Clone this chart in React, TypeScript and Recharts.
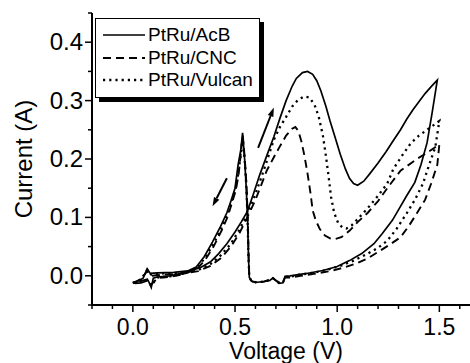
import React from 'react';
import { LineChart, Line, XAxis, YAxis, Legend, ReferenceLine } from 'recharts';

type Pt = [number, number];

// Voltage (V), Current (A). forward scan then reverse scan.
const acbForward: Pt[] = [
  [0.0, -0.013], [0.03, -0.008], [0.05, -0.004], [0.07, 0.012], [0.085, 0.004], [0.12, 0.005],
  [0.2, 0.006], [0.28, 0.009], [0.33, 0.014], [0.38, 0.024], [0.42, 0.038], [0.46, 0.055],
  [0.5, 0.075], [0.53, 0.092], [0.56, 0.11], [0.59, 0.14], [0.62, 0.172], [0.66, 0.21],
  [0.69, 0.238], [0.72, 0.27], [0.75, 0.3], [0.78, 0.325], [0.8, 0.338], [0.83, 0.348],
  [0.855, 0.35], [0.88, 0.345], [0.9, 0.334], [0.92, 0.317], [0.945, 0.29], [0.965, 0.265],
  [0.99, 0.237], [1.015, 0.208], [1.04, 0.183], [1.06, 0.167], [1.08, 0.158], [1.1, 0.155],
  [1.13, 0.162], [1.16, 0.175], [1.2, 0.193], [1.24, 0.213], [1.27, 0.229], [1.31, 0.25],
  [1.34, 0.268], [1.37, 0.284], [1.4, 0.298], [1.43, 0.312], [1.46, 0.324], [1.49, 0.335],
];
const acbReverse: Pt[] = [
  [1.465, 0.28], [1.44, 0.228], [1.41, 0.19], [1.38, 0.16], [1.34, 0.137], [1.3, 0.113],
  [1.27, 0.095], [1.22, 0.072], [1.18, 0.055], [1.12, 0.038], [1.06, 0.026], [1.0, 0.016],
  [0.93, 0.009], [0.85, 0.004], [0.77, 0.0], [0.745, -0.001], [0.735, -0.012], [0.715, -0.013],
  [0.7, -0.008], [0.685, -0.004], [0.67, -0.008], [0.64, -0.01], [0.61, -0.011], [0.585, -0.01],
  [0.57, -0.003], [0.566, 0.03], [0.562, 0.09], [0.555, 0.15], [0.547, 0.2], [0.537, 0.245],
  [0.528, 0.215], [0.515, 0.19], [0.5, 0.15], [0.48, 0.128], [0.46, 0.108], [0.43, 0.085],
  [0.39, 0.058], [0.35, 0.033], [0.31, 0.015], [0.25, 0.005], [0.18, 0.0], [0.12, -0.002],
  [0.1, -0.004], [0.09, -0.02], [0.075, -0.008], [0.04, -0.012], [0.01, -0.013],
];

const cncForward: Pt[] = [
  [0.0, -0.012], [0.04, -0.006], [0.07, 0.008], [0.09, 0.0], [0.15, 0.002], [0.25, 0.004],
  [0.32, 0.008], [0.38, 0.017], [0.43, 0.03], [0.48, 0.05], [0.52, 0.072], [0.56, 0.1],
  [0.6, 0.13], [0.63, 0.157], [0.655, 0.18], [0.69, 0.203], [0.72, 0.222], [0.75, 0.24],
  [0.78, 0.252], [0.795, 0.255], [0.81, 0.248], [0.825, 0.23], [0.84, 0.205], [0.855, 0.175],
  [0.87, 0.14], [0.88, 0.112], [0.895, 0.095], [0.915, 0.08], [0.94, 0.069], [0.965, 0.064],
  [0.99, 0.063], [1.02, 0.066], [1.06, 0.077], [1.1, 0.092], [1.15, 0.108], [1.2, 0.128],
  [1.245, 0.15], [1.31, 0.18], [1.39, 0.2], [1.45, 0.213], [1.5, 0.225],
];
const cncReverse: Pt[] = [
  [1.49, 0.19], [1.46, 0.158], [1.43, 0.13], [1.39, 0.107], [1.35, 0.085], [1.31, 0.066],
  [1.26, 0.054], [1.21, 0.043], [1.15, 0.03], [1.1, 0.022], [1.04, 0.015], [0.98, 0.009],
  [0.9, 0.004], [0.82, 0.0], [0.77, -0.003], [0.745, -0.003], [0.735, -0.01], [0.72, -0.012],
  [0.7, -0.008], [0.685, -0.004], [0.67, -0.007], [0.64, -0.01], [0.6, -0.011], [0.58, -0.009],
  [0.57, -0.002], [0.567, 0.03], [0.563, 0.09], [0.557, 0.15], [0.548, 0.2], [0.538, 0.24],
  [0.53, 0.215], [0.518, 0.175], [0.505, 0.148], [0.485, 0.125], [0.465, 0.102], [0.435, 0.078],
  [0.395, 0.05], [0.355, 0.028], [0.315, 0.012], [0.25, 0.003], [0.18, -0.002], [0.12, -0.004],
  [0.09, -0.015], [0.07, -0.006], [0.03, -0.01], [0.0, -0.012],
];

const vulcanForward: Pt[] = [
  [0.0, -0.012], [0.04, -0.006], [0.07, 0.01], [0.09, 0.002], [0.15, 0.004], [0.25, 0.005],
  [0.32, 0.01], [0.38, 0.02], [0.43, 0.035], [0.48, 0.055], [0.52, 0.078], [0.56, 0.105],
  [0.6, 0.14], [0.64, 0.18], [0.69, 0.233], [0.72, 0.255], [0.75, 0.272], [0.78, 0.29],
  [0.81, 0.302], [0.84, 0.307], [0.865, 0.305], [0.89, 0.292], [0.91, 0.272], [0.93, 0.24],
  [0.945, 0.205], [0.958, 0.17], [0.97, 0.135], [0.985, 0.108], [1.005, 0.09], [1.025, 0.083],
  [1.045, 0.081], [1.07, 0.086], [1.1, 0.097], [1.15, 0.116], [1.2, 0.137], [1.245, 0.158],
  [1.275, 0.183], [1.32, 0.207], [1.36, 0.227], [1.4, 0.24], [1.44, 0.25], [1.5, 0.265],
];
const vulcanReverse: Pt[] = [
  [1.48, 0.22], [1.45, 0.19], [1.42, 0.158], [1.38, 0.13], [1.34, 0.107], [1.29, 0.08],
  [1.245, 0.06], [1.2, 0.048], [1.15, 0.038], [1.08, 0.026], [1.015, 0.017], [0.95, 0.01],
  [0.88, 0.005], [0.8, 0.001], [0.77, -0.002], [0.745, -0.002], [0.735, -0.011], [0.715, -0.012],
  [0.7, -0.008], [0.685, -0.004], [0.67, -0.007], [0.64, -0.01], [0.6, -0.011], [0.58, -0.009],
  [0.57, -0.002], [0.566, 0.03], [0.562, 0.09], [0.556, 0.15], [0.547, 0.2], [0.537, 0.236],
  [0.529, 0.21], [0.516, 0.175], [0.502, 0.148], [0.482, 0.126], [0.462, 0.105], [0.432, 0.08],
  [0.392, 0.053], [0.352, 0.03], [0.312, 0.013], [0.25, 0.004], [0.18, -0.001], [0.12, -0.003],
  [0.09, -0.017], [0.07, -0.007], [0.03, -0.011], [0.0, -0.012],
];

const seriesNames = ['PtRu/AcB', 'PtRu/CNC', 'PtRu/Vulcan'];
const seriesDash = ['', '8 5', '2.2 4'];
const seriesWidth = [1.7, 1.9, 2.3];

const xTicks = [-0.2, -0.1, 0, 0.1, 0.2, 0.3, 0.4, 0.5, 0.6, 0.7, 0.8, 0.9, 1.0, 1.1, 1.2, 1.3, 1.4, 1.5, 1.6];
const yTicks = [-0.05, 0, 0.05, 0.1, 0.15, 0.2, 0.25, 0.3, 0.35, 0.4, 0.45];

// scan direction arrows: [from, to]
const scanArrows: Pt[][] = [
  [[0.46, 0.167], [0.39, 0.119]],
  [[0.613, 0.219], [0.69, 0.288]],
];

const FONT = '"Liberation Sans", Arial, Helvetica, sans-serif';

const toRows = (fwd: Pt[], rev: Pt[]) => [...fwd, ...rev].map(([v, i]) => ({ v, i }));
const seriesData = [
  toRows(acbForward, acbReverse),
  toRows(cncForward, cncReverse),
  toRows(vulcanForward, vulcanReverse),
];

const isMajor = (v: number, step: number) => Math.abs(v / step - Math.round(v / step)) < 1e-6;

const BottomTick = (props: any) => {
  const { x, y, payload } = props;
  const v = payload.value;
  const major = isMajor(v, 0.5);
  return (
    <g>
      <line x1={x} x2={x} y1={y} y2={y + (major ? 7 : 4)} stroke="#000" strokeWidth={1.5} />
      {major && (
        <text x={x} y={y + 30} textAnchor="middle" fontSize={23} fontFamily={FONT} fill="#000">
          {v.toFixed(1)}
        </text>
      )}
    </g>
  );
};

const TopTick = (props: any) => {
  const { x, y, payload } = props;
  const major = isMajor(payload.value, 0.5);
  return <line x1={x} x2={x} y1={y} y2={y + (major ? 7 : 4)} stroke="#000" strokeWidth={1.5} />;
};

const LeftTick = (props: any) => {
  const { x, y, payload } = props;
  const v = payload.value;
  const major = isMajor(v, 0.1);
  return (
    <g>
      <line x1={x - (major ? 7 : 4)} x2={x} y1={y} y2={y} stroke="#000" strokeWidth={1.5} />
      {major && (
        <text x={x - 9} y={y + 8} textAnchor="end" fontSize={24} fontFamily={FONT} fill="#000">
          {v.toFixed(1)}
        </text>
      )}
    </g>
  );
};

const ArrowShape = (props: any) => {
  const { x1, y1, x2, y2 } = props;
  if ([x1, y1, x2, y2].some((n) => typeof n !== 'number')) return null;
  const a = Math.atan2(y2 - y1, x2 - x1);
  const hl = 9;
  const hw = 3;
  const bx = x2 - hl * Math.cos(a);
  const by = y2 - hl * Math.sin(a);
  const px = -Math.sin(a) * hw;
  const py = Math.cos(a) * hw;
  return (
    <g>
      <line x1={x1} y1={y1} x2={bx} y2={by} stroke="#000" strokeWidth={2} />
      <polygon points={`${x2},${y2} ${bx + px},${by + py} ${bx - px},${by - py}`} fill="#000" />
    </g>
  );
};

const LegendBox = () => (
  <div
    style={{
      border: '1px solid #000',
      boxShadow: '4px 4px 0 #000',
      background: '#fff',
      padding: '5px 4px 5px 7px',
      fontFamily: FONT,
      fontSize: 19,
      lineHeight: '22.5px',
      color: '#000',
    }}
  >
    {seriesNames.map((name, idx) => (
      <div key={name} style={{ display: 'flex', alignItems: 'center', height: 22.5, whiteSpace: 'nowrap' }}>
        <svg width={42} height={22} style={{ marginRight: 3, flex: 'none' }}>
          <line
            x1={0}
            x2={42}
            y1={11}
            y2={11}
            stroke="#000"
            strokeWidth={seriesWidth[idx]}
            strokeDasharray={seriesDash[idx] || undefined}
          />
        </svg>
        <span>{name}</span>
      </div>
    ))}
  </div>
);

export default function App() {
  return (
    <div style={{ width: 470, height: 363, background: '#fff' }}>
      <style>{'body{margin:0}'}</style>
      <LineChart width={470} height={363} margin={{ top: 13, right: 0, bottom: 0, left: 0 }}>
        <XAxis
          dataKey="v"
          type="number"
          domain={[-0.2, 1.65]}
          ticks={xTicks}
          interval={0}
          height={58}
          tickSize={0}
          tickMargin={0}
          tickLine={false}
          tick={BottomTick}
          axisLine={{ stroke: '#000', strokeWidth: 2 }}
          allowDataOverflow
          label={{ value: 'Voltage (V)', position: 'insideBottom', offset: 4, dx: 5, fontSize: 23, fontFamily: FONT, fill: '#000' }}
        />
        <XAxis
          xAxisId="top"
          orientation="top"
          dataKey="v"
          type="number"
          domain={[-0.2, 1.65]}
          ticks={xTicks}
          interval={0}
          height={0}
          tickSize={0}
          tickMargin={0}
          tickLine={false}
          tick={TopTick}
          axisLine={{ stroke: '#000', strokeWidth: 2 }}
          allowDataOverflow
        />
        <YAxis
          type="number"
          domain={[-0.05, 0.45]}
          ticks={yTicks}
          interval={0}
          width={92}
          tickSize={0}
          tickMargin={0}
          tickLine={false}
          tick={LeftTick}
          axisLine={{ stroke: '#000', strokeWidth: 2 }}
          allowDataOverflow
          label={{
            value: 'Current (A)',
            angle: -90,
            position: 'insideLeft',
            offset: 23,
            fontSize: 24,
            fontFamily: FONT,
            fill: '#000',
            style: { textAnchor: 'middle' },
          }}
        />
        <Legend
          layout="horizontal"
          verticalAlign="middle"
          align="center"
          content={LegendBox}
          wrapperStyle={{ left: 95, top: 18, width: 165, height: 'auto' }}
        />
        {seriesData.map((rows, idx) => (
          <Line
            key={seriesNames[idx]}
            name={seriesNames[idx]}
            data={rows}
            dataKey="i"
            type="linear"
            stroke="#000"
            strokeWidth={seriesWidth[idx]}
            strokeDasharray={seriesDash[idx] || undefined}
            dot={false}
            activeDot={false}
            isAnimationActive={false}
          />
        ))}
        {scanArrows.map(([from, to], idx) => (
          <ReferenceLine
            key={idx}
            segment={[{ x: from[0], y: from[1] }, { x: to[0], y: to[1] }]}
            shape={ArrowShape}
            ifOverflow="visible"
          />
        ))}
      </LineChart>
    </div>
  );
}
